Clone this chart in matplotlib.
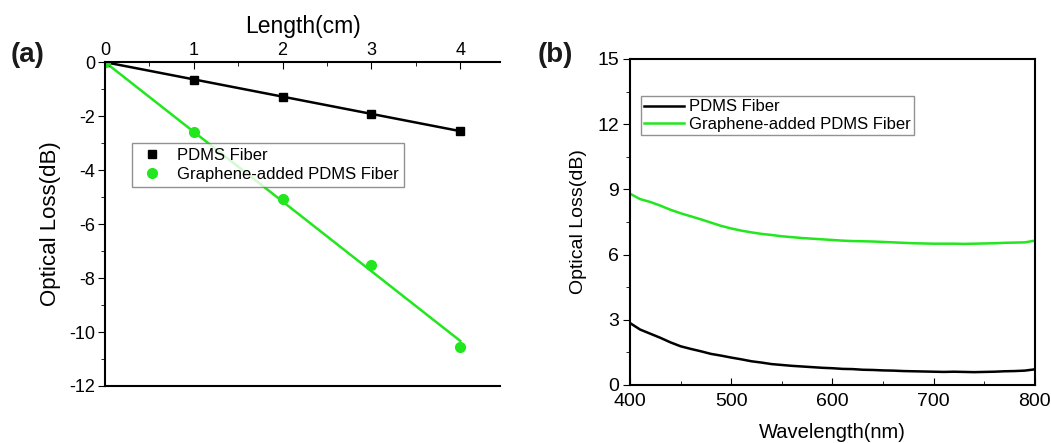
import numpy as np
import matplotlib.pyplot as plt
from matplotlib.ticker import MultipleLocator

plt.rcParams['font.family'] = ['Liberation Sans', 'DejaVu Sans']
plt.rcParams['axes.unicode_minus'] = False

# (a) loss vs fiber length
length_cm = np.array([0, 1, 2, 3, 4])
pdms_loss = np.array([0, -0.65, -1.28, -1.92, -2.55])
graphene_loss = np.array([0, -2.60, -5.07, -7.52, -10.54])

# (b) loss spectra
wavelength = np.arange(400, 801, 10)
pdms_spec = [2.85, 2.55, 2.36, 2.17, 1.96, 1.78, 1.66, 1.55, 1.43, 1.35,
             1.26, 1.18, 1.09, 1.03, 0.96, 0.92, 0.88, 0.85, 0.82, 0.79,
             0.77, 0.74, 0.73, 0.70, 0.69, 0.67, 0.66, 0.64, 0.63, 0.62,
             0.61, 0.60, 0.61, 0.60, 0.59, 0.60, 0.61, 0.63, 0.64, 0.66, 0.72]
graphene_spec = [8.80, 8.55, 8.42, 8.25, 8.06, 7.90, 7.76, 7.62, 7.47, 7.32,
                 7.20, 7.10, 7.02, 6.95, 6.90, 6.84, 6.80, 6.76, 6.73, 6.70,
                 6.67, 6.64, 6.62, 6.61, 6.60, 6.58, 6.56, 6.54, 6.52, 6.51,
                 6.50, 6.50, 6.50, 6.49, 6.50, 6.51, 6.52, 6.54, 6.55, 6.56, 6.64]

green = '#22e61e'

fig = plt.figure(figsize=(10.51, 4.43), dpi=100)

# ---- panel (a)
ax1 = fig.add_axes([0.0999, 0.1287, 0.376, 0.731])
# linear fits through origin
k_p = np.sum(length_cm * pdms_loss) / np.sum(length_cm ** 2)
k_g = np.sum(length_cm * graphene_loss) / np.sum(length_cm ** 2)
ax1.plot(length_cm, k_p * length_cm, color='black', lw=1.8)
ax1.plot(length_cm, k_g * length_cm, color=green, lw=1.8)
ax1.plot(length_cm, pdms_loss, 's', color='black', ms=6, label='PDMS Fiber')
ax1.plot(length_cm, graphene_loss, 'o', color=green, ms=7, label='Graphene-added PDMS Fiber')
ax1.set_xlim(0, 4.45)
ax1.set_ylim(-12, 0)
ax1.xaxis.tick_top()
ax1.xaxis.set_label_position('top')
ax1.xaxis.set_major_locator(MultipleLocator(1))
ax1.xaxis.set_minor_locator(MultipleLocator(0.5))
ax1.yaxis.set_major_locator(MultipleLocator(2))
ax1.yaxis.set_minor_locator(MultipleLocator(1))
ax1.tick_params(axis='x', which='both', direction='in', labelsize=13, pad=2)
ax1.tick_params(axis='x', which='major', length=5)
ax1.tick_params(axis='x', which='minor', length=3)
ax1.tick_params(axis='y', which='both', direction='out', labelsize=13, pad=2)
ax1.tick_params(axis='y', which='major', length=5)
ax1.tick_params(axis='y', which='minor', length=3)
ax1.spines['right'].set_visible(False)
for s in ['top', 'left', 'bottom']:
    ax1.spines[s].set_linewidth(1.5)
ax1.set_xlabel('Length(cm)', fontsize=16.5, labelpad=7)
ax1.set_ylabel('Optical Loss(dB)', fontsize=16, labelpad=6)
leg1 = ax1.legend(loc='upper left', bbox_to_anchor=(0.068, 0.75), fontsize=12,
                  frameon=True, fancybox=False, edgecolor='#777777',
                  borderpad=0.3, handletextpad=0.6, labelspacing=0.25,
                  handlelength=1.8, borderaxespad=0)
leg1.get_frame().set_linewidth(1)
fig.text(0.010, 0.860, '(a)', fontsize=20, fontweight='bold', color='#1a1a1a')

# ---- panel (b)
ax2 = fig.add_axes([0.5994, 0.131, 0.3853, 0.736])
ax2.plot(wavelength, pdms_spec, color='black', lw=1.8, label='PDMS Fiber')
ax2.plot(wavelength, graphene_spec, color=green, lw=1.8, label='Graphene-added PDMS Fiber')
ax2.set_xlim(400, 800)
ax2.set_ylim(0, 15)
ax2.xaxis.set_major_locator(MultipleLocator(100))
ax2.xaxis.set_minor_locator(MultipleLocator(50))
ax2.yaxis.set_major_locator(MultipleLocator(3))
ax2.yaxis.set_minor_locator(MultipleLocator(1.5))
ax2.tick_params(axis='x', which='both', direction='in', labelsize=14, pad=6)
ax2.tick_params(axis='x', which='major', length=5)
ax2.tick_params(axis='x', which='minor', length=3)
ax2.tick_params(axis='y', which='both', direction='out', labelsize=14, pad=3)
ax2.tick_params(axis='y', which='major', length=5)
ax2.tick_params(axis='y', which='minor', length=3)
for s in ax2.spines.values():
    s.set_linewidth(1.5)
ax2.set_xlabel('Wavelength(nm)', fontsize=14.5, labelpad=9)
ax2.set_ylabel('Optical Loss(dB)', fontsize=14, labelpad=7)
leg2 = ax2.legend(loc='upper left', bbox_to_anchor=(0.027, 0.886), fontsize=12,
                  frameon=True, fancybox=False, edgecolor='#777777',
                  borderpad=0.2, handletextpad=0.3, labelspacing=0.15,
                  handlelength=2.4, borderaxespad=0)
leg2.get_frame().set_linewidth(1)
fig.text(0.512, 0.860, '(b)', fontsize=20, fontweight='bold', color='#1a1a1a')

fig.savefig('out.png', dpi=100)
